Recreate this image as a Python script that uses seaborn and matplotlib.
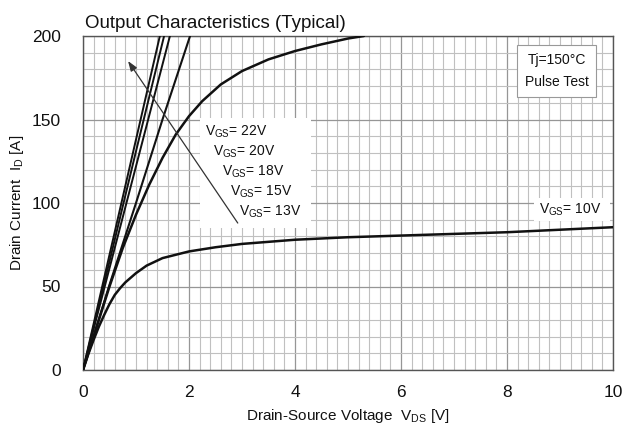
import numpy as np
import pandas as pd
import matplotlib
matplotlib.use("Agg")
import matplotlib.pyplot as plt
import seaborn as sns
from matplotlib.patches import Rectangle
from matplotlib.ticker import MultipleLocator

# ---- data ----
vds_22 = [0, 0.5, 1.0, 1.45]
id_22 = [0, 69, 138, 200]
vds_20 = [0, 0.5, 1.0, 1.53]
id_20 = [0, 65, 131, 200]
vds_18 = [0, 0.5, 1.0, 1.64]
id_18 = [0, 61, 122, 200]
vds_15 = [0, 0.5, 1.0, 1.5, 2.02]
id_15 = [0, 51, 100, 150, 200]
vds_13 = [0, 0.25, 0.5, 0.75, 1.0, 1.25, 1.5, 1.75, 2.0, 2.25, 2.6, 3.0, 3.5, 4.0, 4.5, 5.0, 5.3]
id_13 = [0, 25, 50, 73, 93, 111, 127, 141, 152, 161, 171, 179, 186, 191, 195, 198.5, 200]
vds_10 = [0, 0.1, 0.2, 0.3, 0.4, 0.5, 0.6, 0.7, 0.8, 1.0, 1.2, 1.5, 2.0, 2.5, 3.0, 4.0, 5.0, 6.0, 7.0, 8.0, 9.0, 10.0]
id_10 = [0, 9.5, 18, 26, 33, 39.5, 45, 49, 52.5, 58, 62.5, 67, 71, 73.5, 75.5, 78, 79.5, 80.5, 81.5, 82.5, 84, 85.5]

labels = ["22V", "20V", "18V", "15V", "13V"]

FONT = "Liberation Sans"

sns.set_theme(style="white")
plt.rcParams["font.family"] = [FONT, "DejaVu Sans"]
plt.rcParams["mathtext.fontset"] = "custom"
plt.rcParams["mathtext.rm"] = FONT
plt.rcParams["mathtext.it"] = FONT
plt.rcParams["mathtext.bf"] = FONT

frames = []
for name, xs, ys in [("22", vds_22, id_22), ("20", vds_20, id_20), ("18", vds_18, id_18),
                     ("15", vds_15, id_15), ("13", vds_13, id_13), ("10", vds_10, id_10)]:
    frames.append(pd.DataFrame({"vds": xs, "id": ys, "vgs": name}))
df = pd.concat(frames, ignore_index=True)

fig = plt.figure(figsize=(6.37, 4.30), dpi=100)
ax = fig.add_axes([83 / 637, 60 / 430, 530 / 637, 334 / 430])

# background label boxes (under curves)
ax.add_patch(Rectangle((2.2, 85), 2.1, 66, facecolor="white", edgecolor="none", zorder=1.5))
ax.add_patch(Rectangle((8.5, 89), 1.45, 14, facecolor="white", edgecolor="none", zorder=1.5))

widths = {"22": 1.4, "20": 1.4, "18": 1.4, "15": 1.5, "13": 1.8, "10": 1.8}
for name, sub in df.groupby("vgs", sort=False):
    sns.lineplot(data=sub, x="vds", y="id", ax=ax, color="#111111", lw=widths[name],
                 sort=False, zorder=3, legend=False)

ax.set_xlim(0, 10)
ax.set_ylim(0, 200)
ax.xaxis.set_major_locator(MultipleLocator(2))
ax.xaxis.set_minor_locator(MultipleLocator(0.2))
ax.yaxis.set_major_locator(MultipleLocator(50))
ax.yaxis.set_minor_locator(MultipleLocator(10))
ax.grid(which="minor", color="#c0c0c0", lw=0.8, zorder=1)
ax.grid(which="major", color="#969696", lw=0.9, zorder=1)
ax.set_axisbelow(True)
ax.tick_params(which="both", length=0)
ax.tick_params(axis="x", pad=11, labelsize=12.5, colors="#111111")
ax.tick_params(axis="y", pad=16, labelsize=12.5, colors="#111111")
for s in ax.spines.values():
    s.set_color("#555555")
    s.set_linewidth(1.0)

ax.set_xlabel(r"Drain-Source Voltage  V$_{\mathrm{DS}}$ [V]", fontsize=11, labelpad=5, color="#111111")
ax.set_ylabel(r"Drain Current  I$_{\mathrm{D}}$ [A]", fontsize=11, labelpad=4, color="#111111")

fig.text(85 / 637, (430 - 28) / 430, "Output Characteristics (Typical)", fontsize=13.5,
         ha="left", va="baseline", color="#111111")

# VGS labels
for i, lab in enumerate(labels):
    x = 2.3 + i * 0.16
    y = 142.5 - i * 12
    ax.text(x, y, r"V$_{\mathrm{GS}}$= " + lab, fontsize=10, ha="left", va="center",
            color="#111111", zorder=4)
ax.text(8.6, 96, r"V$_{\mathrm{GS}}$= 10V", fontsize=10, ha="left", va="center",
        color="#111111", zorder=4)

# arrow
ax.annotate("", xy=(0.85, 185), xytext=(2.92, 88),
            arrowprops=dict(arrowstyle="-|>,head_length=0.5,head_width=0.18",
                            color="#333333", lw=0.9, shrinkA=0, shrinkB=0), zorder=4)

# Tj box
ax.text(8.94, 179, "Tj=150\u00b0C\nPulse Test", fontsize=10, ha="center", va="center",
        linespacing=1.8, color="#111111", zorder=4,
        bbox=dict(boxstyle="square,pad=0.55", facecolor="white", edgecolor="#999999", lw=0.8))

fig.savefig("out.png", dpi=100)
